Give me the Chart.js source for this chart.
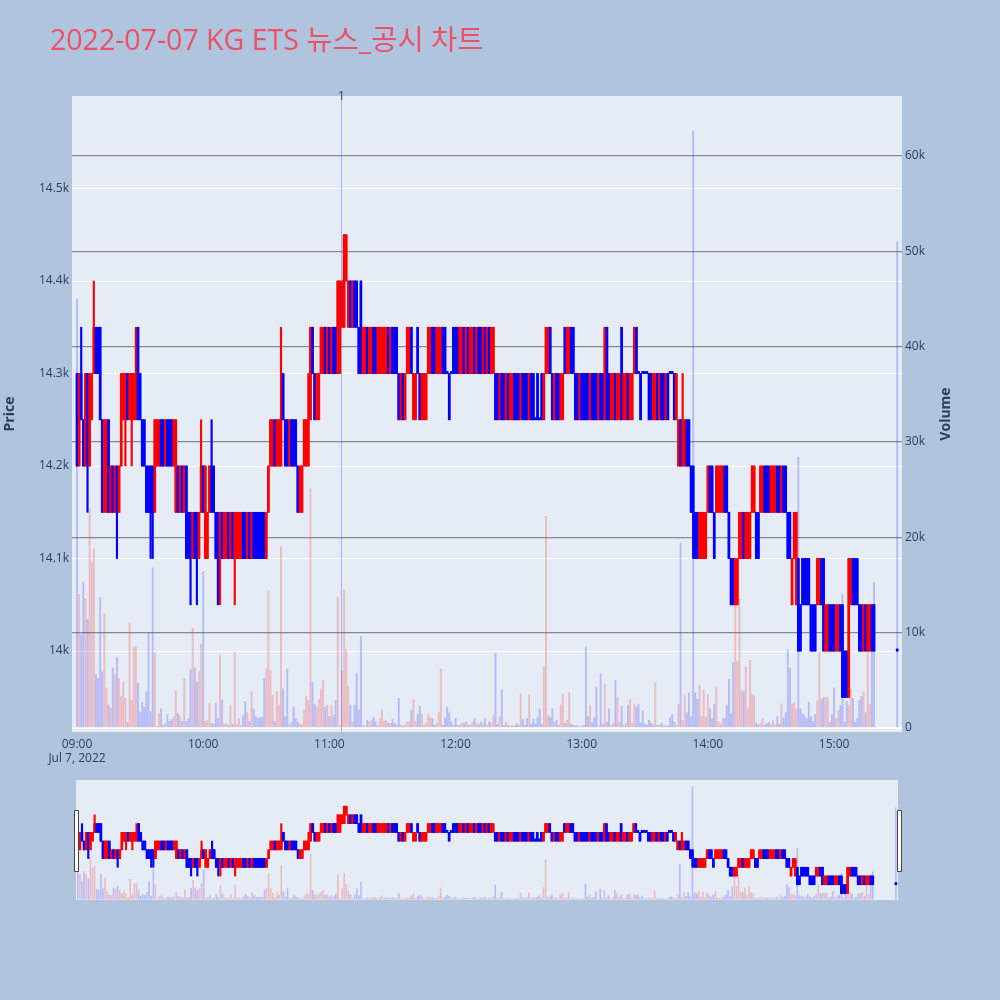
<!DOCTYPE html>
<html><head><meta charset="utf-8">
<script src="https://cdn.jsdelivr.net/npm/chart.js@4.4.1/dist/chart.umd.min.js"></script>
<style>
html,body{margin:0;padding:0;background:#b0c4de;}
#wrap{position:relative;width:1000px;height:1000px;overflow:hidden;}
#main{position:absolute;left:0;top:0;}
#slider{position:absolute;left:66px;top:770px;}
</style></head><body>
<div id="wrap"><canvas id="main" width="1000" height="1000"></canvas><canvas id="slider" width="842" height="140"></canvas></div>
<script>
const titleText = '2022-07-07 KG ETS 뉴스_공시 차트';
const priceAxisTitle = 'Price';
const volumeAxisTitle = 'Volume';

// one candle per minute after 09:00
const opens = [
14300,14200,14300,14250,14200,14300,14200,14250,14300,14350,
14350,14350,14250,14150,14150,14250,14150,14200,14150,14200,
14150,14200,14250,14250,14300,14250,14250,14250,14250,14350,
14300,14250,14250,14200,14200,14200,14200,14150,14200,14200,
14250,14250,14200,14250,14250,14250,14200,14150,14200,14150,
14200,14150,14200,14150,14150,14100,14150,14150,14100,14150,
14200,14100,14100,14150,14200,14200,14150,14150,14100,14150,
14100,14100,14150,14100,14150,14100,14100,14100,14100,14150,
14150,14100,14150,14100,14150,14150,14150,14150,14150,14150,
14100,14150,14200,14200,14250,14200,14200,14200,14300,14250,
14250,14200,14250,14250,14250,14200,14150,14150,14200,14200,
14200,14250,14350,14300,14250,14250,14300,14300,14350,14300,
14350,14300,14350,14350,14300,14300,14350,14350,14400,14350,
14400,14350,14400,14400,14350,14400,14300,14300,14350,14300,
14300,14350,14350,14300,14300,14300,14300,14300,14350,14300,
14350,14350,14350,14300,14250,14300,14250,14300,14300,14350,
14250,14250,14350,14300,14250,14250,14250,14300,14300,14350,
14350,14300,14300,14300,14350,14350,14300,14300,14300,14350,
14350,14350,14300,14300,14350,14300,14350,14300,14300,14350,
14300,14350,14350,14300,14350,14300,14350,14300,14300,14300,
14300,14250,14300,14300,14250,14300,14250,14250,14300,14300,
14300,14250,14300,14300,14300,14250,14300,14300,14250,14300,
14250,14300,14250,14300,14300,14350,14300,14250,14300,14300,
14250,14250,14350,14300,14300,14350,14350,14300,14300,14250,
14300,14300,14300,14300,14250,14300,14300,14300,14250,14300,
14300,14250,14350,14300,14250,14250,14300,14250,14250,14350,
14250,14250,14300,14250,14250,14300,14350,14300,14300,14300,
14300,14300,14300,14300,14250,14250,14300,14250,14300,14300,
14250,14300,14300,14300,14300,14250,14200,14250,14200,14200,
14250,14250,14200,14200,14150,14150,14100,14100,14100,14100,
14150,14200,14200,14150,14150,14150,14150,14150,14200,14200,
14150,14100,14100,14050,14050,14100,14100,14150,14100,14100,
14100,14150,14150,14150,14150,14150,14150,14200,14200,14200,
14150,14150,14150,14200,14200,14150,14200,14200,14150,14150,
14050,14100,14050,14100,14050,14100,14100,14100,14100,14050,
14050,14050,14050,14050,14100,14100,14000,14000,14050,14050,
14050,14000,14000,14050,14050,14000,14000,13950,14050,14100,
14100,14100,14050,14050,14000,14050,14000,14000,14050,14050];
const highs = [
14300,14300,14350,14250,14300,14300,14300,14300,14400,14350,
14350,14350,14250,14250,14250,14250,14200,14200,14200,14200,
14200,14300,14300,14300,14300,14300,14300,14300,14350,14350,
14300,14250,14250,14200,14200,14200,14200,14250,14250,14250,
14250,14250,14250,14250,14250,14250,14250,14250,14200,14200,
14200,14200,14200,14150,14150,14150,14150,14150,14150,14250,
14200,14200,14150,14200,14250,14200,14150,14150,14150,14150,
14150,14150,14150,14150,14150,14150,14150,14150,14150,14150,
14150,14150,14150,14150,14150,14150,14150,14150,14150,14150,
14150,14200,14250,14250,14250,14250,14250,14350,14300,14250,
14250,14250,14250,14250,14250,14200,14200,14200,14250,14250,
14300,14350,14350,14300,14300,14300,14350,14350,14350,14350,
14350,14350,14350,14350,14400,14400,14400,14450,14450,14400,
14400,14400,14400,14400,14350,14400,14350,14350,14350,14350,
14350,14350,14350,14350,14350,14350,14350,14350,14350,14350,
14350,14350,14350,14300,14300,14300,14300,14350,14350,14350,
14300,14300,14350,14300,14300,14300,14300,14350,14350,14350,
14350,14350,14350,14350,14350,14350,14300,14300,14300,14350,
14350,14350,14350,14350,14350,14350,14350,14350,14350,14350,
14350,14350,14350,14350,14350,14350,14350,14350,14350,14300,
14300,14300,14300,14300,14300,14300,14300,14300,14300,14300,
14300,14300,14300,14300,14300,14300,14300,14300,14250,14300,
14250,14300,14300,14350,14350,14350,14300,14300,14300,14300,
14300,14300,14350,14350,14350,14350,14350,14300,14300,14300,
14300,14300,14300,14300,14300,14300,14300,14300,14300,14300,
14300,14350,14350,14300,14300,14300,14300,14300,14300,14350,
14300,14300,14300,14300,14300,14350,14350,14300,14300,14300,
14300,14300,14300,14300,14300,14300,14300,14300,14300,14300,
14300,14300,14300,14300,14300,14300,14250,14250,14300,14250,
14250,14250,14200,14200,14150,14150,14150,14150,14150,14150,
14200,14200,14200,14150,14200,14200,14200,14200,14200,14200,
14150,14100,14100,14100,14100,14150,14150,14150,14150,14150,
14150,14200,14200,14150,14150,14200,14200,14200,14200,14200,
14200,14200,14200,14200,14200,14200,14200,14200,14150,14150,
14100,14150,14150,14100,14050,14100,14100,14100,14100,14050,
14050,14050,14100,14100,14100,14100,14050,14050,14050,14050,
14050,14050,14050,14050,14050,14000,14000,14100,14100,14100,
14100,14100,14050,14050,14050,14050,14050,14050,14050,14050];
const lows = [
14200,14200,14250,14200,14200,14150,14200,14250,14300,14300,
14300,14250,14150,14150,14150,14150,14150,14150,14150,14100,
14150,14200,14250,14200,14250,14250,14200,14250,14250,14250,
14250,14200,14200,14150,14150,14100,14100,14150,14200,14200,
14200,14200,14200,14200,14200,14200,14200,14150,14150,14150,
14150,14150,14100,14100,14050,14100,14100,14050,14100,14150,
14150,14100,14100,14150,14150,14150,14100,14050,14050,14100,
14100,14100,14100,14100,14100,14050,14100,14100,14100,14100,
14100,14100,14100,14100,14100,14100,14100,14100,14100,14100,
14100,14150,14200,14200,14200,14200,14200,14200,14250,14200,
14200,14200,14200,14200,14200,14150,14150,14150,14200,14200,
14200,14250,14300,14250,14250,14250,14300,14300,14300,14300,
14300,14300,14300,14300,14300,14300,14350,14350,14400,14350,
14350,14350,14350,14350,14300,14300,14300,14300,14300,14300,
14300,14300,14300,14300,14300,14300,14300,14300,14300,14300,
14300,14300,14300,14250,14250,14250,14250,14300,14300,14300,
14250,14250,14300,14250,14250,14250,14250,14300,14300,14300,
14300,14300,14300,14300,14300,14300,14300,14250,14300,14300,
14300,14300,14300,14300,14300,14300,14300,14300,14300,14300,
14300,14300,14300,14300,14300,14300,14300,14300,14300,14250,
14250,14250,14250,14250,14250,14250,14250,14250,14250,14250,
14250,14250,14250,14250,14250,14250,14250,14250,14250,14250,
14250,14250,14250,14300,14300,14300,14250,14250,14250,14250,
14250,14250,14300,14300,14300,14300,14300,14250,14250,14250,
14250,14250,14250,14250,14250,14250,14250,14250,14250,14250,
14250,14250,14250,14250,14250,14250,14250,14250,14250,14250,
14250,14250,14250,14250,14250,14300,14300,14300,14250,14300,
14300,14300,14250,14250,14250,14250,14250,14250,14250,14250,
14250,14250,14300,14300,14250,14250,14200,14200,14200,14200,
14200,14200,14150,14100,14100,14100,14100,14100,14100,14100,
14150,14150,14150,14100,14150,14150,14150,14150,14150,14150,
14100,14050,14050,14050,14050,14100,14100,14100,14100,14100,
14100,14150,14150,14100,14100,14150,14150,14150,14150,14150,
14150,14150,14150,14150,14150,14150,14150,14150,14100,14100,
14050,14100,14050,14000,14000,14050,14050,14050,14050,14000,
14000,14000,14050,14050,14050,14000,14000,14000,14000,14000,
14000,14000,14000,14000,13950,13950,13950,13950,14050,14050,
14050,14050,14000,14000,14000,14000,14000,14000,14000,14000];
const closes = [
14200,14300,14250,14200,14300,14200,14300,14300,14350,14300,
14300,14250,14150,14250,14250,14150,14200,14150,14200,14150,
14200,14300,14300,14300,14250,14300,14300,14300,14300,14250,
14250,14200,14200,14150,14150,14150,14150,14250,14250,14250,
14200,14200,14250,14200,14200,14200,14250,14250,14150,14200,
14150,14200,14100,14100,14100,14150,14100,14100,14150,14200,
14150,14200,14150,14200,14150,14150,14100,14100,14150,14100,
14150,14150,14100,14150,14100,14150,14150,14150,14150,14100,
14100,14150,14100,14150,14100,14100,14100,14100,14100,14100,
14150,14200,14250,14250,14200,14250,14250,14250,14250,14200,
14200,14250,14200,14200,14200,14150,14200,14200,14250,14250,
14250,14350,14300,14250,14300,14300,14350,14350,14300,14350,
14300,14350,14300,14300,14400,14400,14400,14450,14450,14400,
14350,14400,14350,14350,14300,14300,14350,14350,14300,14350,
14350,14300,14300,14350,14350,14350,14350,14350,14300,14350,
14300,14300,14300,14250,14300,14250,14300,14350,14350,14300,
14300,14300,14300,14250,14300,14300,14300,14350,14350,14300,
14300,14350,14350,14350,14300,14300,14300,14250,14300,14300,
14300,14300,14350,14350,14300,14350,14300,14350,14350,14300,
14350,14300,14300,14350,14300,14350,14300,14350,14350,14250,
14250,14300,14250,14250,14300,14250,14300,14300,14250,14250,
14250,14300,14250,14250,14250,14300,14250,14250,14250,14250,
14250,14250,14300,14350,14350,14300,14250,14300,14250,14250,
14300,14300,14300,14350,14350,14300,14300,14250,14250,14300,
14250,14250,14250,14250,14300,14250,14250,14250,14300,14250,
14250,14350,14250,14250,14300,14300,14250,14300,14300,14250,
14300,14300,14250,14300,14300,14350,14300,14300,14250,14300,
14300,14300,14250,14250,14300,14300,14250,14300,14250,14250,
14300,14250,14300,14300,14250,14300,14250,14200,14250,14250,
14200,14200,14150,14150,14100,14100,14150,14150,14150,14150,
14200,14150,14150,14100,14200,14200,14200,14200,14150,14150,
14100,14050,14050,14100,14100,14150,14150,14100,14150,14150,
14150,14200,14200,14100,14100,14200,14200,14150,14150,14150,
14200,14200,14200,14150,14150,14200,14150,14150,14100,14100,
14100,14150,14150,14000,14000,14050,14050,14050,14050,14000,
14000,14000,14100,14100,14050,14000,14050,14050,14000,14000,
14000,14050,14050,14000,13950,13950,13950,14100,14100,14050,
14050,14050,14000,14000,14050,14000,14050,14050,14000,14000];
const volumes = [
45000,14000,9800,15300,13600,11400,23000,17400,18800,5600,
5200,13700,5900,12000,4200,2400,2100,6300,5600,7400,
5200,3300,4800,3100,600,11000,2900,8500,8500,4700,
1700,2700,2200,3800,10000,1700,16800,7900,200,1500,
2000,300,500,1400,700,900,1200,3900,1500,1200,
700,5200,700,1000,6100,10500,6300,4800,5900,8800,
16400,700,800,2600,500,
400,2600,1000,7600,2900,400,500,300,2400,400,
8000,400,1000,300,1300,2800,1600,700,3800,2000,
1200,1000,1100,1100,5200,6200,14400,6000,3400,700,
3800,2400,19000,4100,1200,6200,400,600,2200,1000,
600,400,400,1900,3300,2900,25100,4800,2500,2200,
3000,4100,5000,2200,2400,1200,2400,1300,2900,13700,
200,6000,14500,8200,4400,2400,
650,2400,5700,1900,9600,300,200,800,650,800,
1100,650,300,1000,1900,750,800,500,500,900,
500,300,3100,300,200,300,600,650,1900,3000,
650,1400,2300,1400,300,500,1400,1100,1000,300,
500,1600,6200,300,1100,2200,1600,650,300,1000,
300,300,500,500,650,300,300,600,1000,500,
300,650,500,1000,300,650,
500,1300,7800,400,1200,4000,300,600,300,200,
300,200,500,300,3600,900,300,1000,3500,400,
900,400,1100,2000,400,6400,22200,1300,1100,2000,
600,800,300,2400,3600,500,800,3700,400,300,
200,300,100,200,300,8500,1200,2400,600,1100,
4300,200,5700,400,4600,600,2000,300,500,5000,
3200,600,2300,300,500,2400,
3000,500,2500,2200,2500,500,1800,400,300,800,
500,400,4700,300,300,500,200,300,200,1100,
1400,600,300,2500,19400,800,3400,1600,3700,1200,
62600,3700,3000,4500,1200,4000,1100,3500,2000,1000,
2500,4300,700,400,1000,1000,2400,5100,1500,6900,
13000,7000,13500,4000,3800,6400,2000,7100,3500,3400,
500,300,500,1000,300,
500,600,400,800,300,1200,400,2500,1000,1600,
8200,6300,2500,2700,2000,28400,2000,1500,1300,1000,
2700,1200,700,1400,2800,8000,3000,3200,3200,3200,
600,1400,4200,1000,1900,2400,14000,600,2800,2400,
4100,3100,600,1000,2900,3300,3800,1600,8500,2500,
8300,15300];

// closing auction (15:30)
const auctionMinutes = [390];
const auctionPrices = [14000];
const auctionVolumes = [51000];

// news / disclosure marker
const newsMinutes = [125.6];
const newsLabels = ['1'];

const priceTicks = [14000,14100,14200,14300,14400,14500];
const priceTickLabels = ['14k','14.1k','14.2k','14.3k','14.4k','14.5k'];
const volumeTicks = [0,10000,20000,30000,40000,50000,60000];
const volumeTickLabels = ['0','10k','20k','30k','40k','50k','60k'];
const timeTicks = [0,60,120,180,240,300,360];
const timeTickLabels = [['09:00','Jul 7, 2022'],'10:00','11:00','12:00','13:00','14:00','15:00'];

const UP = '#ff0000', DOWN = '#0000ff';
const UP_VOL = 'rgba(255,0,0,0.2)', DOWN_VOL = 'rgba(0,0,255,0.2)';
const FONT = '"Open Sans", "Noto Sans CJK KR", sans-serif';

const xs = opens.map((_, i) => i).concat(auctionMinutes);
const O = opens.concat(auctionPrices);
const C = closes.concat(auctionPrices);
const H = highs.concat(auctionPrices);
const L = lows.concat(auctionPrices);
const V = volumes.concat(auctionVolumes);
const isUp = i => C[i] > O[i];

function makeDatasets(bodyW, wickW, volW) {
  return [
    { type:'bar', label:'body', data: xs.map((x,i)=>({x:x, y:[O[i], C[i]]})),
      backgroundColor: xs.map((_,i)=>isUp(i)?UP:DOWN), barThickness: bodyW, minBarLength: 2,
      grouped:false, yAxisID:'y', order:1 },
    { type:'bar', label:'wick', data: xs.map((x,i)=>({x:x, y:[L[i], H[i]]})),
      backgroundColor: xs.map((_,i)=>isUp(i)?UP:DOWN), barThickness: wickW, minBarLength: 2,
      grouped:false, yAxisID:'y', order:2 },
    { type:'bar', label:'volume', data: xs.map((x,i)=>({x:x, y:V[i]})),
      backgroundColor: xs.map((_,i)=>isUp(i)?UP_VOL:DOWN_VOL), barThickness: volW,
      grouped:false, yAxisID:'y2', order:3 }
  ];
}

const bgPlugin = { id:'plotbg', beforeDraw(chart){
  const a = chart.chartArea, ctx = chart.ctx;
  ctx.save(); ctx.fillStyle = '#e5ecf6';
  ctx.fillRect(a.left, a.top, a.right - a.left, a.bottom - a.top); ctx.restore();
}};

const newsPlugin = { id:'news', afterDatasetsDraw(chart){
  const a = chart.chartArea, ctx = chart.ctx, sx = chart.scales.x;
  ctx.save();
  newsMinutes.forEach((m, k) => {
    const px = Math.round(sx.getPixelForValue(m)) + 0.5;
    ctx.strokeStyle = 'rgba(60,70,230,0.35)'; ctx.lineWidth = 1;
    ctx.beginPath(); ctx.moveTo(px, a.top); ctx.lineTo(px, a.bottom); ctx.stroke();
    ctx.fillStyle = '#444'; ctx.font = '12px ' + FONT; ctx.textAlign = 'center'; ctx.textBaseline = 'alphabetic';
    ctx.fillText(newsLabels[k], px, a.top + 3.5);
  });
  ctx.restore();
}};

const textPlugin = { id:'texts', afterDraw(chart){
  const a = chart.chartArea, ctx = chart.ctx;
  ctx.save();
  ctx.fillStyle = '#ef5068'; ctx.font = '28.5px ' + FONT; ctx.textAlign = 'left'; ctx.textBaseline = 'alphabetic';
  ctx.fillText(titleText, 50, 50);
  ctx.fillStyle = '#2a3f5f'; ctx.font = 'bold 14px ' + FONT; ctx.textAlign = 'center'; ctx.textBaseline = 'middle';
  const cy = (a.top + a.bottom) / 2;
  ctx.translate(10, cy); ctx.rotate(-Math.PI/2); ctx.fillText(priceAxisTitle, 0, 0);
  ctx.setTransform(1,0,0,1,0,0);
  ctx.translate(946, cy); ctx.rotate(-Math.PI/2); ctx.fillText(volumeAxisTitle, 0, 0);
  ctx.restore();
}};

const tickFont = { family: FONT, size: 12 };
new Chart(document.getElementById('main'), {
  type:'bar',
  data:{ datasets: makeDatasets(2, 1.5, 1.3) },
  options:{
    responsive:false, animation:false, devicePixelRatio:1,
    layout:{ padding:{ top:96, left:0, right:0, bottom:0 } },
    plugins:{ legend:{display:false}, tooltip:{enabled:false}, title:{display:false} },
    scales:{
      x:{ type:'linear', min:-2.38, max:392.3, offset:false,
          grid:{display:false, drawTicks:false}, border:{display:false},
          afterFit(s){ s.height = 268; },
          afterBuildTicks(s){ s.ticks = timeTicks.map(v=>({value:v})); },
          ticks:{ autoSkip:false, maxRotation:0, minRotation:0, padding:5, color:'#2a3f5f', font:tickFont,
                  callback:(v,i)=>timeTickLabels[i] } },
      y:{ type:'linear', position:'left', min:13912.5, max:14600,
          grid:{ color:'#ffffff', lineWidth:1, drawTicks:false }, border:{display:false},
          afterFit(s){ s.width = 72; },
          afterBuildTicks(s){ s.ticks = priceTicks.map(v=>({value:v})); },
          ticks:{ padding:3, color:'#2a3f5f', font:tickFont, callback:(v,i)=>priceTickLabels[i] } },
      y2:{ type:'linear', position:'right', min:-420, max:66290,
          grid:{ color:(c)=> (c.tick && c.tick.value===0) ? '#ffffff' : 'rgba(105,105,105,0.75)',
                 lineWidth:(c)=> (c.tick && c.tick.value===0) ? 2 : 1.3, drawTicks:false },
          border:{display:false},
          afterFit(s){ s.width = 98; },
          afterBuildTicks(s){ s.ticks = volumeTicks.map(v=>({value:v})); },
          ticks:{ padding:3, color:'#2a3f5f', font:tickFont, callback:(v,i)=>volumeTickLabels[i] } }
    }
  },
  plugins:[bgPlugin, newsPlugin, textPlugin]
});

const handlePlugin = { id:'handles', afterDraw(chart){
  const a = chart.chartArea, ctx = chart.ctx;
  const cy = (a.top + a.bottom) / 2;
  ctx.save(); ctx.fillStyle = '#ffffff'; ctx.strokeStyle = '#444'; ctx.lineWidth = 1;
  [a.left - 2.5, a.right - 1.5].forEach(x0 => {
    ctx.beginPath(); ctx.rect(Math.round(x0) + 0.5, Math.round(cy - 30) + 0.5, 4, 61);
    ctx.fill(); ctx.stroke();
  });
  ctx.restore();
}};

new Chart(document.getElementById('slider'), {
  type:'bar',
  data:{ datasets: makeDatasets(2, 1.5, 1) },
  options:{
    responsive:false, animation:false, devicePixelRatio:1,
    layout:{ padding:{ top:10, left:10, right:10, bottom:10 } },
    plugins:{ legend:{display:false}, tooltip:{enabled:false} },
    scales:{
      x:{ type:'linear', min:-0.86, max:391, offset:false, display:false },
      y:{ type:'linear', min:13912.5, max:14600, display:false },
      y2:{ type:'linear', min:-420, max:66290, display:false, position:'right' }
    }
  },
  plugins:[bgPlugin, handlePlugin]
});
</script>
</body></html>
